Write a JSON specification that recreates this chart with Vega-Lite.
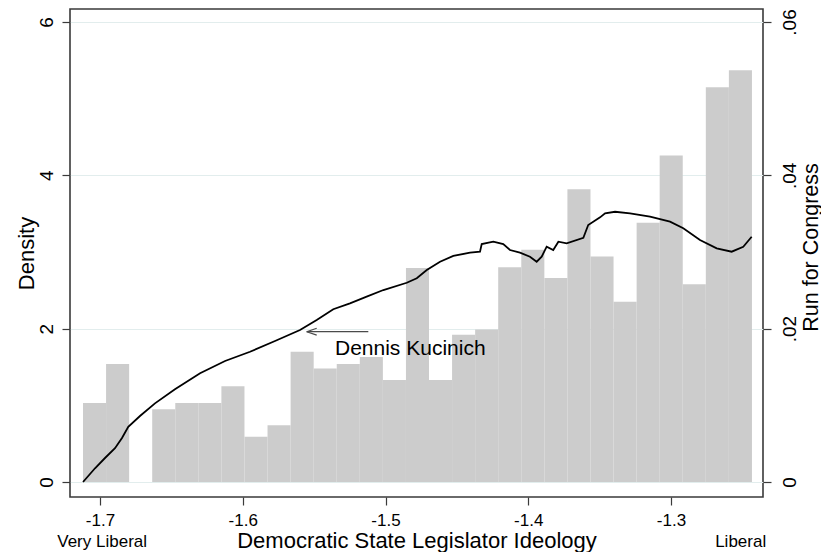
{
  "$schema": "https://vega.github.io/schema/vega-lite/v6.json",
  "width": 693,
  "height": 488,
  "autosize": {"type": "none"},
  "padding": {"left": 70, "top": 9, "right": 58, "bottom": 55},
  "background": "white",
  "config": {
    "font": "Liberation Sans",
    "view": {"stroke": "#3a3a3a", "strokeWidth": 1.6},
    "axis": {
      "domain": false,
      "tickColor": "#3a3a3a",
      "tickSize": 8,
      "tickWidth": 1.2,
      "labelColor": "#000000",
      "titleColor": "#000000",
      "titleFontWeight": "normal",
      "labelFont": "Liberation Sans",
      "titleFont": "Liberation Sans",
      "labelOverlap": false,
      "labelFlush": false
    }
  },
  "datasets": {
    "hist": [
      {"x": -1.71191, "x2": -1.69575, "density": 1.03},
      {"x": -1.69575, "x2": -1.67959, "density": 1.54},
      {"x": -1.67959, "x2": -1.66343, "density": 0},
      {"x": -1.66343, "x2": -1.64727, "density": 0.95},
      {"x": -1.64727, "x2": -1.63112, "density": 1.03},
      {"x": -1.63112, "x2": -1.61496, "density": 1.03},
      {"x": -1.61496, "x2": -1.5988, "density": 1.25},
      {"x": -1.5988, "x2": -1.58264, "density": 0.59},
      {"x": -1.58264, "x2": -1.56648, "density": 0.74},
      {"x": -1.56648, "x2": -1.55032, "density": 1.7},
      {"x": -1.55032, "x2": -1.53416, "density": 1.48},
      {"x": -1.53416, "x2": -1.518, "density": 1.54},
      {"x": -1.518, "x2": -1.50184, "density": 1.63},
      {"x": -1.50184, "x2": -1.48568, "density": 1.33},
      {"x": -1.48568, "x2": -1.46953, "density": 2.79},
      {"x": -1.46953, "x2": -1.45337, "density": 1.33},
      {"x": -1.45337, "x2": -1.43721, "density": 1.92},
      {"x": -1.43721, "x2": -1.42105, "density": 1.99},
      {"x": -1.42105, "x2": -1.40489, "density": 2.8},
      {"x": -1.40489, "x2": -1.38873, "density": 3.03},
      {"x": -1.38873, "x2": -1.37257, "density": 2.66},
      {"x": -1.37257, "x2": -1.35641, "density": 3.82},
      {"x": -1.35641, "x2": -1.34025, "density": 2.94},
      {"x": -1.34025, "x2": -1.32409, "density": 2.35},
      {"x": -1.32409, "x2": -1.30794, "density": 3.38},
      {"x": -1.30794, "x2": -1.29178, "density": 4.26},
      {"x": -1.29178, "x2": -1.27562, "density": 2.58},
      {"x": -1.27562, "x2": -1.25946, "density": 5.15},
      {"x": -1.25946, "x2": -1.2433, "density": 5.37}
    ],
    "curve": [
      {"x": -1.7119, "run": 0.0},
      {"x": -1.7035, "run": 0.00179},
      {"x": -1.6965, "run": 0.00313},
      {"x": -1.6895, "run": 0.0044},
      {"x": -1.6846, "run": 0.00574},
      {"x": -1.6802, "run": 0.00721},
      {"x": -1.672, "run": 0.00861},
      {"x": -1.6615, "run": 0.01026},
      {"x": -1.6475, "run": 0.01209},
      {"x": -1.6299, "run": 0.01418},
      {"x": -1.6124, "run": 0.01578},
      {"x": -1.5949, "run": 0.01699},
      {"x": -1.5774, "run": 0.01839},
      {"x": -1.5599, "run": 0.01982},
      {"x": -1.5482, "run": 0.02113},
      {"x": -1.5366, "run": 0.02253},
      {"x": -1.5249, "run": 0.02331},
      {"x": -1.5132, "run": 0.02417},
      {"x": -1.5015, "run": 0.02504},
      {"x": -1.4851, "run": 0.02599},
      {"x": -1.4781, "run": 0.02657},
      {"x": -1.4711, "run": 0.02765},
      {"x": -1.4618, "run": 0.02873},
      {"x": -1.4525, "run": 0.02948},
      {"x": -1.4408, "run": 0.02991},
      {"x": -1.4338, "run": 0.03004},
      {"x": -1.4326, "run": 0.03104},
      {"x": -1.4245, "run": 0.03134},
      {"x": -1.4175, "run": 0.03104},
      {"x": -1.4128, "run": 0.03026},
      {"x": -1.4058, "run": 0.02991},
      {"x": -1.3988, "run": 0.02939},
      {"x": -1.3941, "run": 0.02873},
      {"x": -1.3906, "run": 0.02939},
      {"x": -1.3871, "run": 0.03069},
      {"x": -1.3825, "run": 0.03026},
      {"x": -1.3789, "run": 0.03134},
      {"x": -1.3731, "run": 0.03113},
      {"x": -1.3614, "run": 0.03186},
      {"x": -1.358, "run": 0.03352},
      {"x": -1.3497, "run": 0.03452},
      {"x": -1.3462, "run": 0.03505},
      {"x": -1.3392, "run": 0.03525},
      {"x": -1.3287, "run": 0.03505},
      {"x": -1.3147, "run": 0.0346},
      {"x": -1.3007, "run": 0.03395},
      {"x": -1.2914, "run": 0.03309},
      {"x": -1.2797, "run": 0.03156},
      {"x": -1.268, "run": 0.03048},
      {"x": -1.2575, "run": 0.03004},
      {"x": -1.2494, "run": 0.03069},
      {"x": -1.2435, "run": 0.03199}
    ],
    "arrow": [
      {"x": -1.51205, "y": 1.9604, "x2": -1.5552, "y2": 1.9604},
      {"x": -1.5552, "y": 1.9604, "x2": -1.5482, "y2": 2.006},
      {"x": -1.5552, "y": 1.9604, "x2": -1.5482, "y2": 1.915}
    ],
    "note": [
      {"x": -1.53538, "y": 1.657, "label": "Dennis Kucinich"}
    ],
    "ends": [
      {"x": -1.6985, "y": -0.854, "label": "Very Liberal"},
      {"x": -1.2512, "y": -0.854, "label": "Liberal"}
    ]
  },
  "resolve": {"scale": {"y": "independent"}, "axis": {"y": "independent", "x": "independent"}},
  "layer": [
    {
      "data": {"name": "hist"},
      "mark": {"type": "rect", "color": "#cccccc", "strokeWidth": 0},
      "encoding": {
        "x": {
          "field": "x", "type": "quantitative",
          "scale": {"domain": [-1.72102, -1.23556], "nice": false, "zero": false},
          "axis": {
            "values": [-1.7, -1.6, -1.5, -1.4, -1.3],
            "labelExpr": "'-' + format(abs(datum.value), '.1f')",
            "labelFontSize": 17,
            "labelBaseline": "alphabetic",
            "labelPadding": 20,
            "grid": false,
            "title": "Democratic State Legislator Ideology",
            "titleFontSize": 22,
            "titleBaseline": "alphabetic",
            "titleY": 50.5
          }
        },
        "x2": {"field": "x2"},
        "y": {
          "field": "density", "type": "quantitative",
          "scale": {"domain": [-0.19565, 6.1696], "nice": false, "zero": false},
          "axis": {
            "orient": "left",
            "values": [0, 2, 4, 6],
            "format": "d",
            "grid": true,
            "gridColor": "#e2eded",
            "gridWidth": 1,
            "labelAngle": -90,
            "labelAlign": "center",
            "labelBaseline": "alphabetic",
            "labelPadding": 9.5,
            "labelFontSize": 19,
            "title": "Density",
            "titleFontSize": 22,
            "titleAngle": -90,
            "titleAlign": "center",
            "titleBaseline": "alphabetic",
            "titleX": -37,
            "titleY": 244
          }
        },
        "y2": {"datum": 0}
      }
    },
    {
      "data": {"name": "arrow"},
      "mark": {"type": "rule", "color": "#4a4a4a", "strokeWidth": 1.2},
      "encoding": {
        "x": {"field": "x", "type": "quantitative", "scale": {"domain": [-1.72102, -1.23556], "nice": false, "zero": false}, "axis": null},
        "x2": {"field": "x2"},
        "y": {"field": "y", "type": "quantitative", "scale": {"domain": [-0.19565, 6.1696], "nice": false, "zero": false}, "axis": null},
        "y2": {"field": "y2"}
      }
    },
    {
      "data": {"name": "note"},
      "mark": {"type": "text", "align": "left", "baseline": "alphabetic", "fontSize": 21, "color": "#000000", "font": "Liberation Sans"},
      "encoding": {
        "x": {"field": "x", "type": "quantitative", "scale": {"domain": [-1.72102, -1.23556], "nice": false, "zero": false}, "axis": null},
        "y": {"field": "y", "type": "quantitative", "scale": {"domain": [-0.19565, 6.1696], "nice": false, "zero": false}, "axis": null},
        "text": {"field": "label"}
      }
    },
    {
      "data": {"name": "ends"},
      "mark": {"type": "text", "align": "center", "baseline": "alphabetic", "fontSize": 17, "color": "#000000", "font": "Liberation Sans"},
      "encoding": {
        "x": {"field": "x", "type": "quantitative", "scale": {"domain": [-1.72102, -1.23556], "nice": false, "zero": false}, "axis": null},
        "y": {"field": "y", "type": "quantitative", "scale": {"domain": [-0.19565, 6.1696], "nice": false, "zero": false}, "axis": null},
        "text": {"field": "label"}
      }
    },
    {
      "data": {"name": "curve"},
      "mark": {"type": "line", "color": "#000000", "strokeWidth": 1.8, "interpolate": "linear"},
      "encoding": {
        "x": {"field": "x", "type": "quantitative", "scale": {"domain": [-1.72102, -1.23556], "nice": false, "zero": false}, "axis": null},
        "y": {
          "field": "run", "type": "quantitative",
          "scale": {"domain": [-0.0019565, 0.061696], "nice": false, "zero": false},
          "axis": {
            "orient": "right",
            "values": [0, 0.02, 0.04, 0.06],
            "labelExpr": "datum.value == 0 ? '0' : replace(format(datum.value, '.2f'), '0.', '.')",
            "grid": false,
            "labelAngle": -90,
            "labelAlign": "center",
            "labelBaseline": "alphabetic",
            "labelPadding": 24,
            "labelFontSize": 19,
            "title": "Run for Congress",
            "titleFontSize": 21.5,
            "titleAngle": -90,
            "titleAlign": "center",
            "titleBaseline": "alphabetic",
            "titleX": 54,
            "titleY": 238
          }
        }
      }
    }
  ]
}
